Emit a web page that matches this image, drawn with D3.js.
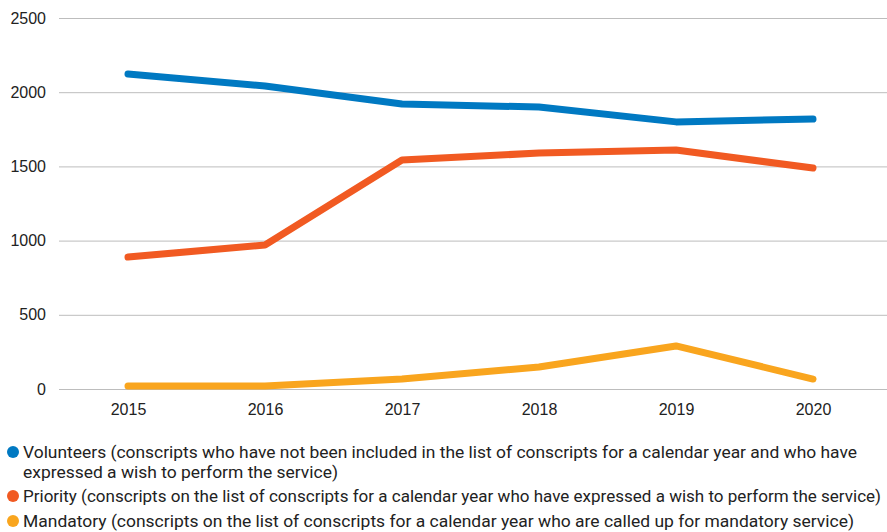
<!DOCTYPE html>
<html lang="en">
<head>
  <meta charset="UTF-8">
  <title>Conscripts</title>
  <script src="https://d3js.org/d3.v7.min.js"></script>
  <style>
    body { margin: 0; background: #fff; font-family: Roboto, "Noto Sans", sans-serif; }
    .tick text { font-size: 16px; fill: #222; }
    .legend text { font-size: 17px; fill: #222; }
  </style>
</head>
<body>
  <div id="chart"></div>
  <script>
    const years = ["2015", "2016", "2017", "2018", "2019", "2020"];
    const volunteers = [2123, 2042, 1920, 1900, 1800, 1819];
    const priority = [889, 970, 1543, 1590, 1610, 1489];
    const mandatory = [20, 20, 67, 148, 290, 67];
    const yTicks = [0, 500, 1000, 1500, 2000, 2500];

    const legendLabels = [
      ["Volunteers (conscripts who have not been included in the list of conscripts for a calendar year and who have",
       "expressed a wish to perform the service)"],
      ["Priority (conscripts on the list of conscripts for a calendar year who have expressed a wish to perform the service)"],
      ["Mandatory (conscripts on the list of conscripts for a calendar year who are called up for mandatory service)"]
    ];

    const series = [
      { values: volunteers, color: "#0079c2" },
      { values: priority, color: "#f15a22" },
      { values: mandatory, color: "#f9a51e" }
    ];

    const W = 887, H = 532;
    const margin = { left: 59, right: 887, top: 18, bottom: 389 };

    const svg = d3.select("#chart").append("svg")
      .attr("width", W)
      .attr("height", H);

    const x = d3.scalePoint()
      .domain(years)
      .range([59.5, 881.5])
      .padding(0.5);

    const y = d3.scaleLinear()
      .domain([0, 2500])
      .range([margin.bottom, margin.top]);

    // gridlines + y labels
    const yAxis = svg.append("g")
      .attr("transform", `translate(${margin.left},0)`)
      .call(d3.axisLeft(y).tickValues(yTicks).tickFormat(d3.format("d"))
        .tickSize(-(margin.right - margin.left)).tickPadding(13));
    yAxis.select(".domain").remove();
    yAxis.selectAll(".tick line").attr("stroke", "#bdbdbd");

    const xAxis = svg.append("g")
      .attr("transform", `translate(0,${margin.bottom})`)
      .call(d3.axisBottom(x).tickSize(0).tickPadding(15));
    xAxis.select(".domain").remove();

    const line = d3.line()
      .x((d, i) => x(years[i]))
      .y(d => y(d));

    series.forEach(s => {
      svg.append("path")
        .datum(s.values)
        .attr("d", line)
        .attr("fill", "none")
        .attr("stroke", s.color)
        .attr("stroke-width", 7)
        .attr("stroke-linecap", "round")
        .attr("stroke-linejoin", "round");
    });

    // legend, line widths fitted to the original layout
    const legendY = [452, 496, 521];
    const lineWidths = [[834, 315], [858], [831]];
    const legend = svg.append("g").attr("class", "legend");
    series.forEach((s, i) => {
      const g = legend.append("g").attr("transform", `translate(0,${legendY[i]})`);
      g.append("circle")
        .attr("cx", 13)
        .attr("cy", 0)
        .attr("r", 6)
        .attr("fill", s.color);
      legendLabels[i].forEach((t, j) => {
        g.append("text")
          .attr("x", 23)
          .attr("y", j * 20)
          .attr("dy", "0.35em")
          .attr("textLength", lineWidths[i][j])
          .attr("lengthAdjust", "spacingAndGlyphs")
          .text(t);
      });
    });
  </script>
</body>
</html>
